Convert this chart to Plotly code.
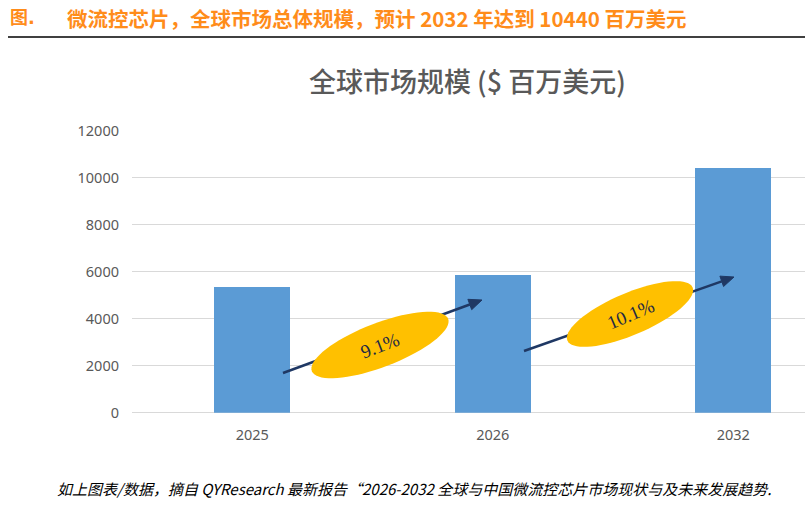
import math
import plotly.graph_objects as go

# ---- data ----
years = ["2025", "2026", "2032"]
market_size = [5370, 5860, 10440]
cagr_labels = ["9.1%", "10.1%"]
y_ticks = [0, 2000, 4000, 6000, 8000, 10000, 12000]
y_tick_labels = ["0", "2000", "4000", "6000", "8000", "10000", "12000"]

header_prefix = "图."
header_text = "微流控芯片，全球市场总体规模，预计 <b>2032</b> 年达到 <b>10440</b> 百万美元"
chart_title = "全球市场规模 ($ 百万美元)"
footer_text = "如上图表/数据，摘自 QYResearch 最新报告“2026-2032 全球与中国微流控芯片市场现状与及未来发展趋势."

W, H = 805, 510
# plot area in pixels
PL, PR, PT, PB = 132, 805, 131, 412.7

def px(x):
    return x / W

def py(y):
    return 1 - y / H

fig = go.Figure()
fig.add_trace(go.Bar(
    x=years, y=market_size, marker=dict(color="#5B9BD5", line=dict(width=0)),
    width=0.316, hoverinfo="x+y",
))

shapes = []
annotations = []

# growth arrows (pixel layout of decoration), behind the ellipses
arrows = [((283, 373), (482, 300)), ((524, 351), (734, 277))]
ellipses = [((380, 345), 73, 22, 21), ((630, 314), 68, 21, 23)]
navy = "#1F3864"
for (x0, y0), (x1, y1) in arrows:
    ang = math.atan2(y1 - y0, x1 - x0)
    hl, hw = 13, 5.5
    bx, by = x1 - hl * math.cos(ang), y1 - hl * math.sin(ang)
    shapes.append(dict(type="line", xref="paper", yref="paper",
                       x0=px(x0), y0=py(y0), x1=px(bx), y1=py(by),
                       line=dict(color=navy, width=2.5), layer="above"))
    nx, ny = -math.sin(ang), math.cos(ang)
    pts = [(x1, y1), (bx + hw * nx, by + hw * ny), (bx - hw * nx, by - hw * ny)]
    path = "M " + " L ".join(f"{px(a):.5f},{py(b):.5f}" for a, b in pts) + " Z"
    shapes.append(dict(type="path", xref="paper", yref="paper", path=path,
                       fillcolor=navy, line=dict(color=navy, width=1), layer="above"))

for ((cx, cy), a, b, deg), lab in zip(ellipses, cagr_labels):
    th = math.radians(deg)
    pts = []
    for i in range(72):
        t = 2 * math.pi * i / 72
        ex = cx + a * math.cos(th) * math.cos(t) - b * math.sin(th) * math.sin(t)
        ey = cy - (a * math.sin(th) * math.cos(t) + b * math.cos(th) * math.sin(t))
        pts.append((ex, ey))
    path = "M " + " L ".join(f"{px(u):.5f},{py(v):.5f}" for u, v in pts) + " Z"
    shapes.append(dict(type="path", xref="paper", yref="paper", path=path,
                       fillcolor="#FFC000", line=dict(width=0), layer="above"))
    annotations.append(dict(x=px(cx), y=py(cy), xref="paper", yref="paper",
                            text=lab, showarrow=False, textangle=-deg,
                            font=dict(family="Liberation Serif, DejaVu Serif, serif",
                                      size=19, color="#1F2A44"),
                            xanchor="center", yanchor="middle"))

# header line
shapes.append(dict(type="line", xref="paper", yref="paper",
                   x0=px(8), x1=1, y0=py(37), y1=py(37),
                   line=dict(color="#000000", width=1.5)))

orange = "#FF8C1A"
header_font = dict(family="DejaVu Sans, Noto Sans CJK SC, sans-serif", size=18, color=orange)
annotations.append(dict(x=px(8), y=py(18), xref="paper", yref="paper", text="<b>" + header_prefix + "</b>",
                        showarrow=False, xanchor="left", yanchor="middle", font=header_font))
annotations.append(dict(x=px(65), y=py(18), xref="paper", yref="paper", text=header_text,
                        showarrow=False, xanchor="left", yanchor="middle",
                        font=dict(family="Noto Sans CJK SC, DejaVu Sans, sans-serif", size=20.5,
                                  color=orange, weight="bold")))
annotations.append(dict(x=px(467), y=py(80), xref="paper", yref="paper", text=chart_title,
                        showarrow=False, xanchor="center", yanchor="middle",
                        font=dict(family="Noto Sans CJK SC, sans-serif", size=27, color="#595959",
                                  weight=500)))
annotations.append(dict(x=px(55), y=py(488), xref="paper", yref="paper", text="<i>" + footer_text + "</i>",
                        showarrow=False, xanchor="left", yanchor="middle",
                        font=dict(family="Noto Sans CJK SC, sans-serif", size=15, color="#000000")))

tickfont = dict(family="Noto Sans, sans-serif", size=14.5, color="#595959")
fig.update_layout(
    width=W, height=H, margin=dict(l=0, r=0, t=0, b=0),
    paper_bgcolor="white", plot_bgcolor="white",
    showlegend=False, shapes=shapes, annotations=annotations,
    xaxis=dict(domain=[PL / W, PR / W], range=[-0.5, -0.5 + (PR - PL) / 240.5],
               type="category", showgrid=False, showline=False, ticks="",
               tickfont=tickfont, ticklabelstandoff=12, automargin=False),
    yaxis=dict(domain=[1 - PB / H, 1 - PT / H], range=[0, 12000],
               tickmode="array", tickvals=y_ticks, ticktext=y_tick_labels,
               showgrid=True, gridcolor="#D9D9D9", gridwidth=1, zeroline=True,
               zerolinecolor="#D9D9D9", zerolinewidth=1, showline=False, ticks="",
               tickfont=tickfont, ticklabelstandoff=12, automargin=False),
    bargap=0,
)

fig.write_html("out.html")
